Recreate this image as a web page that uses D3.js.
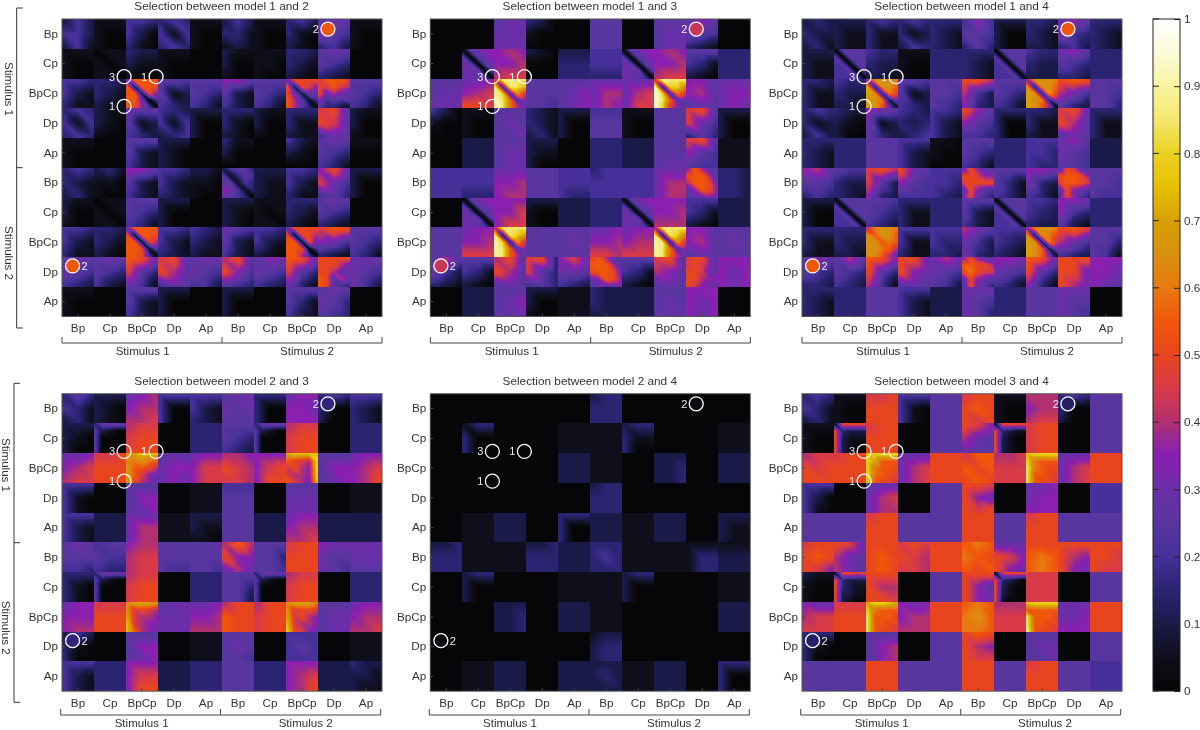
<!DOCTYPE html>
<html><head><meta charset="utf-8">
<script src="https://cdn.jsdelivr.net/npm/d3@7/dist/d3.min.js"></script>
<style>
html,body{margin:0;padding:0;background:#fff;overflow:hidden}
#wrap{position:relative;width:1200px;height:730px}
canvas,svg{position:absolute;left:0;top:0}
text{font-family:"Liberation Sans",Arial,sans-serif;fill:#333}
</style></head><body><div id="wrap"><canvas id="c" width="1200" height="730"></canvas><svg id="s" width="1200" height="730"></svg></div>
<script>
const categories=["Bp","Cp","BpCp","Dp","Ap","Bp","Cp","BpCp","Dp","Ap"];
const stimuli=["Stimulus 1","Stimulus 2"];
const colorbarTicks=[0,.1,.2,.3,.4,.5,.6,.7,.8,.9,1];
const colorStops=[0,.05,.1,.15,.2,.25,.3,.35,.38,.4,.45,.5,.55,.6,.65,.7,.75,.8,.85,.9,.95,1];
const colorValues=["#060608","#0f0f1c","#1a1a48","#2b2472","#47309a","#59359f","#6a2fa8","#8a1fb0","#9a2a90","#b03070","#d83a48","#e8451f","#f0560a","#e87a10","#d89010","#d8a000","#e6c000","#ecd020","#f4e870","#f8f4a0","#fcfad8","#ffffff"];
// every cell string: 3x3 (or 5x5 for detailed blocks) readings of one block, level/20
const Z="000000000";
const panel12=[
["242442241","111100100","443420310","343414343","111100100","242331121","111100100","342310210","565654342","111100100"],
["111100100","011101110","322211100","111100100",Z,"211200100","111110100","332321210","565543321",Z],
["443421311","332321211","6bbbbb2bbabb2a7bb604ba740","554512432","555543431","775521421","555543431","6aaaaa2a97a6265b8514b8530","9bbb9a9b98a686574545 53321".replace(" ",""),"555543431"],
["343414343","211210100","655512432","432414234","222200200","333310210","211200100","333311211","9a5a95465","211200100"],
["111100100",Z,"555521421","222210210",Z,"311200000",Z,"421210000","565543431","111000000"],
["343321231","231110100","775521421","443421321","221110100","2455351354551437641365430".slice(0,25),"222211211","443421311","7a6964453","222200200"],
["211200100","011101110","555543431","222200200",Z,"222210210","111101110","333321210","565543321",Z],
["443421311","332321210","6bbbba1bbabb1a8bba15bba40","443421321","432321211","654521421","443421210","6aaaaa1aa8bb1a6bba04bb840","9ba764321","555543431"],
["565654432","565543421","ba6953641","9a5a85465","566654442","8a5a74543","576654432","ba6953631","aaaaaaaa86aa865ba586ba543","666654642"],
["111100100",Z,"555521421","222200200",Z,"222200200",Z,"555531421","565653543",Z]];
const panel13=[
[Z,Z,"566666666","320100000",Z,"555555555",Z,"555566566","575654321",Z],
[Z,"0567750567650566660566540","787778899","210000000","222333333","444444333","0567750567650566660566540","787778899","555431210","333333333"],
["555566666","667789aa9","9hhhhh4hhfig4d9ihc57ihc86","555555554","555567567","666688687","666689699","9ihhhi3ggdjg4c9jhb56jg975","775785565","666677676"],
["420100000","110100100","555565556","321321231","222200200","444555555","111100100","555555555","9a5964353","222200200"],
[Z,"222222222","555566566","222211200",Z,"333333333","222222222","555555566","9a5754544","111111111"],
["444444444","444444333","666778788","555555555","444444433","344444444","444444444","666688688","7b855abb858bba657ba756676","332332332"],
[Z,"0567750567650566660566540","777779799","222100100","222222222","333333333","0567750567650566660566540","777778888","444431210","222222222"],
["555555555","677778999","8hhhhh2hgeig3d9ihb57ihb85","555555555","555565555","667778998","677788999","7hhhhh2hgdih3d9ihc57ihb86","775785565","555565555"],
["585642321","555431210","8a5a85565","9a3953453","796665432","ab855bbb85abba667ba756666","555431210","9a5875565","9aa759a975aa965aa877a9765","777767767"],
[Z,"222222222","555567566","222200100","111111111","322322222","222222222","555565565","777767767",Z]];
const P3D="0555550555450554450544450";
const panel14=[
["232322231","222211211","343311311","343312243","333321321","474554353","222200200","332321221","675643342","333321321"],
["222211211",P3D,"433322221","111100100","333333333","333321321",P3D,"433322222","675543332","333333333"],
["332311311","433322221","7dddce3ddbed3caedc26edb51","554512432","555554543","aa8842732","555543431","7dddcd3ddbed3daedc37edb70","aba864532","555554553"],
["343312242","322210200","765612532","432323234","443421421","a75754443","333300300","332311211","9a6a85565","333311311"],
["333321321","333333333","555555555","444421421","110100000","555543431","333333333","444443433","675654554","222222222"],
["785554343","544322321","9a8952732","a65754444","444443432","6a755aa9779aaaa5a7546a543","555531431","776632431","5a955abba79bba95a7644a743","555554544"],
["222200200",P3D,"554543432","333311311","333333333","555521421",P3D,"443432322","776743521","333333333"],
["333311211","333322221","8cddcdbddbddbcbddcb8ddb85","444411311","444433332","865642632","444432321","7cddcd2dcaed2c9edb26edb61","ab9864432","555553541"],
["575543332","585543432","ba7a53841","aa6a76565","686654542","7a755bbaa8aca995a7655a653","776654431","ba6a53731","aaaaa6a86","777776765"],
["333321321","333333333","555555555","444421421","222222222","666654653","333333333","555555555","666655654",Z]];
const P4D="3666652100500005000050000";
const panel23=[
["353431231","222210210","678788889","444400400","444421321","566656555","333300300","677776777","343300200","444321321"],
["222210200",P4D,"8999aaaaa",Z,"333333333","555543432",P4D,"8999aa9aa",Z,"333333333"],
["667789899","99aaaaaaa","defffdcdcbdbba8eb976ea875","565677676","677799799","887a98998","77779a7aa","effffba98g9a87g9887gb986f".slice(0,25),"555577567","67778978a"],
["444410410",Z,"555577567",Z,"111111111","444555555",Z,"555666666",Z,"111111111"],
["444421421","222222222","666688688","111111111","222211110","555555555","222222222","677788889","222222222","222222222"],
["565555443","455544433","788899899","555555544","556555554","8b8a77686","555553554","9aaaaaaaa","766655654","666666555"],
["333310310",P4D,"8999aa9aa",Z,"333333333","555553552",P4D,"8999aa9aa",Z,"333333333"],
["677777788","999aaaaaa","deeedd9a98e9887f9877fb876","566666666","667778888","8aabaabaa","8aa9aa9aa","deeecd9aa9e9a87f9887ga976","555566566","677788889"],
["242310300",Z,"555577567",Z,"111111111","555565554",Z,"444454444",Z,"111111111"],
["444421421","333333333","7777997aa","222222222","333333333","555555555","333333333","77778978a","222222222","322221211"]];
const panel24=[
[Z,Z,Z,Z,Z,"233333333",Z,Z,Z,Z],
[Z,"133300300",Z,Z,"111111111","111111111","233311300",Z,Z,"111111111"],
[Z,Z,Z,Z,"222222222","111111111",Z,"222223223",Z,"222222222"],
[Z,Z,Z,Z,Z,"233333333",Z,Z,Z,Z],
[Z,"111111111","222222222",Z,"333300300","222222222","111111111","222222222",Z,"222211211"],
["223333333","111111111","111111111","223333333","222222222","333343333","111111111","111111111","111133133","111222222"],
[Z,"233200200",Z,Z,"111111111","111111111","233200200",Z,Z,"111111111"],
[Z,Z,"222223223",Z,"222222222","111111111",Z,Z,Z,"222222222"],
[Z,Z,Z,Z,Z,"122233233",Z,Z,Z,Z],
[Z,"111111111","222222222",Z,"222222222","222232222","111111111","222222222",Z,"333300300"]];
const F5="555555555",RA="aaaaaaaaa";
const panel34=[
["343431231","111100100","99aaaaaaa","444410410",F5,"9aaabaa9a","111100100","888788899","343300200",F5],
["111100100","1aaaaa3222a2111a2100a2100","9aaaaaaaa",Z,F5,"a97865655","1aaaaa3211a2100a2100a2100","9aa9aa9aa",Z,F5],
["899a9aaaa","9aaaaaaaa","fgggggebbbgcbbagcbaagbaa9","666689689",RA,"9bbbababa","889999999","fgggggcbbbhcbaahbbaahbaa9","666689689",RA],
["444420410",Z,"566689688",Z,F5,"aa9a76a9a",Z,"667677777",Z,"444444444"],
[F5,F5,"9aaaaaaaa",F5,F5,RA,F5,"9aaaaaaaa",F5,F5],
["9aaabaa97","a96865865","aaaabaaba","9a9a98998",RA,"bcbcbabab","666a97a76","aaabcbbcb","aaaa87a76","aaaaa9a99"],
["211100100","1aa9aa3222a3211a2211a2100","aaaa88aa9",Z,F5,"aaaa75a76","19aaaa3210a2100a2100a1000","999999999",Z,F5],
["766899999","999aaaaaa","eggfegcbbbhbbbahbbaahbaa9","767788888",RA,"bcbcdbccb","888999999","fggggbbbbbhbbbahbbaaibaa9","666667777",RA],
["333310300",Z,"555578578",Z,F5,"abaa87a99",Z,"555566556",Z,F5],
[F5,F5,RA,F5,F5,RA,F5,"9aaaaaaaa",F5,"444444444"]];
const titles=["Selection between model 1 and 2","Selection between model 1 and 3","Selection between model 1 and 4","Selection between model 2 and 3","Selection between model 2 and 4","Selection between model 3 and 4"];
const panelData=[panel12,panel13,panel14,panel23,panel24,panel34];
const markerCols=[1.94,2.94,1.94,8.31,.33];
const markerRows=[1.94,1.94,2.94,.34,8.3];
const markerLabels=["3","1","1","2","2"];
const markerFill=[.55,.43,.55,.16,.02,.13];

const color=d3.scaleLinear().domain(colorStops).range(colorValues).clamp(true);
const layout=[
 {x:62,y:19,bx:62,by:343,mid:222,tx:[142.7,307],ty:351,tl:true,lx:16.7,ly:[8,167.7,328],ltx:9,lty:[89,253]},
 {x:430.3,y:19,bx:430.3,by:343,mid:590.7,tx:[511.7,675.7],ty:351},
 {x:802,y:19,bx:802,by:343,mid:962,tx:[883,1047],ty:351},
 {x:62,y:393.7,bx:60.7,by:715,mid:220.5,tx:[141.7,305.7],ty:723,tl:true,lx:14,ly:[383.3,542.7,702.3],ltx:6,lty:[465,627.7]},
 {x:430.3,y:393.7,bx:429.3,by:715,mid:589,tx:[510,674],ty:723},
 {x:802,y:393.7,bx:800.7,by:715,mid:960.7,tx:[881.7,1045],ty:723}];
const W=320,H=297.5;
const ctx=document.getElementById("c").getContext("2d");
const svg=d3.select("#s");
const ax=d3.scaleBand().domain(d3.range(10)).range([0,W]);
const ay=d3.scaleBand().domain(d3.range(10)).range([0,H]);
const mx=d3.scaleLinear().domain([0,10]).range([0,W]);
const my=d3.scaleLinear().domain([0,10]).range([0,H]);
const nodePos3=d3.scaleLinear().domain([.08,.92]).range([0,2]).clamp(true);
const nodePos5=d3.scaleLinear().domain([.04,.96]).range([0,4]).clamp(true);
const level=ch=>parseInt(ch,36)/20;

function drawBlock(str,x0,y0,x1,y1){
  const n=Math.round(Math.sqrt(str.length)),pos=n===5?nodePos5:nodePos3;
  const px0=Math.round(x0),px1=Math.round(x1),py0=Math.round(y0),py1=Math.round(y1);
  for(let py=py0;py<py1;py++){
    const v=pos((py+.5-py0)/(py1-py0)),r=Math.min(n-2,Math.floor(v)),fy=v-r;
    for(let px=px0;px<px1;px++){
      const u=pos((px+.5-px0)/(px1-px0)),c=Math.min(n-2,Math.floor(u)),fx=u-c;
      const a=level(str[r*n+c]),b=level(str[r*n+c+1]),d=level(str[(r+1)*n+c]),e=level(str[(r+1)*n+c+1]);
      const val=fx>=fy? a+(b-a)*fx+(e-b)*fy : a+(e-d)*fx+(d-a)*fy;
      ctx.fillStyle=color(val);ctx.fillRect(px,py,1,1);
    }
  }
}
function label(g,x,y,t,size,anchor){
  return g.append("text").attr("x",x).attr("y",y).attr("dy",".36em").attr("font-size",size).attr("text-anchor",anchor||"middle").text(t);
}
ctx.fillStyle="#fff";ctx.fillRect(0,0,1200,730);
panelData.forEach((rows,p)=>{
  const L=layout[p];
  rows.forEach((row,r)=>row.forEach((s,c)=>{
    const bx=L.x+ax(c),by=L.y+ay(r);
    drawBlock(s,bx,by,bx+ax.bandwidth(),by+ay.bandwidth());
  }));
  const g=svg.append("g").attr("transform",`translate(${L.x},${L.y})`);
  const xa=d3.axisBottom(ax).tickSize(-3).tickPadding(5).tickFormat(i=>categories[i]);
  const ya=d3.axisLeft(ay).tickSize(-3).tickPadding(4).tickFormat(i=>categories[i]);
  const gx=g.append("g").attr("transform",`translate(0,${H})`).call(xa);
  const gy=g.append("g").call(ya);
  [gx,gy].forEach(a=>{a.selectAll("text").attr("font-size",11.7).style("fill","#333");
    a.selectAll("line").attr("stroke","#444");a.select(".domain").remove();a.attr("font-family",null).attr("font-size",null);});
  gx.selectAll(".tick text").attr("dy","0.9em");
  g.append("rect").attr("width",W).attr("height",H).attr("fill","none").attr("stroke","#555").attr("stroke-width",1);
  const mk=g.append("g");
  markerCols.forEach((c,i)=>{
    const isTwo=markerLabels[i]==="2";
    mk.append("circle").attr("cx",mx(c)).attr("cy",my(markerRows[i])).attr("r",7)
      .attr("fill",isTwo?color(markerFill[p]):"none").attr("stroke","#fff").attr("stroke-width",1.3);
    const right=i===4;
    mk.append("text").attr("x",mx(c)+(right?12:-12)).attr("y",my(markerRows[i])).attr("dy",".36em")
      .attr("text-anchor","middle").attr("font-size",11).style("fill","#eee").text(markerLabels[i]);
  });
  label(svg,L.x+W/2-.5,L.y-13,titles[p],11.8);
  const bw=320;
  svg.append("path").attr("fill","none").attr("stroke","#444").attr("stroke-width",1)
    .attr("d",`M${L.bx},${L.by-6}V${L.by}H${L.bx+bw}V${L.by-6}M${L.mid},${L.by}V${L.by-6}`);
  stimuli.forEach((s,i)=>label(svg,L.tx[i],L.ty-.4,s,11.6));
  if(L.tl){
    svg.append("path").attr("fill","none").attr("stroke","#333").attr("stroke-width",1)
      .attr("d",`M${L.lx+6},${L.ly[0]}H${L.lx}V${L.ly[2]}H${L.lx+6}M${L.lx},${L.ly[1]}H${L.lx+6}`);
    stimuli.forEach((s,i)=>{
      svg.append("text").attr("transform",`translate(${L.ltx},${L.lty[i]}) rotate(90)`)
        .attr("text-anchor","middle").attr("dy",".36em").attr("font-size",11.6).text(s);
    });
  }
});
const cbX=1153,cbW=27,cbTop=19,cbBot=691;
const cbY=d3.scaleLinear().domain([0,1]).range([cbBot,cbTop]);
for(let py=cbTop;py<cbBot;py++){ctx.fillStyle=color(cbY.invert(py+.5));ctx.fillRect(cbX,py,cbW,1);}
const cg=svg.append("g");
cg.append("rect").attr("x",cbX).attr("y",cbTop).attr("width",cbW).attr("height",cbBot-cbTop).attr("fill","none").attr("stroke","#222").attr("stroke-width",1);
const cbAxis=d3.axisRight(cbY).tickValues(colorbarTicks).tickSize(-6).tickPadding(4).tickFormat(d3.format("~g"));
const ca=cg.append("g").attr("transform",`translate(${cbX+cbW},0)`).call(cbAxis);
ca.select(".domain").remove();ca.attr("font-family",null).attr("font-size",null);
ca.selectAll("text").attr("font-size",11.7).style("fill","#333").attr("x",4);
ca.selectAll("line").attr("stroke","#222");
cg.selectAll(null).data(colorbarTicks).enter().append("line")
  .attr("x1",cbX).attr("x2",cbX+6).attr("y1",d=>cbY(d)).attr("y2",d=>cbY(d)).attr("stroke","#222");
</script></body></html>
